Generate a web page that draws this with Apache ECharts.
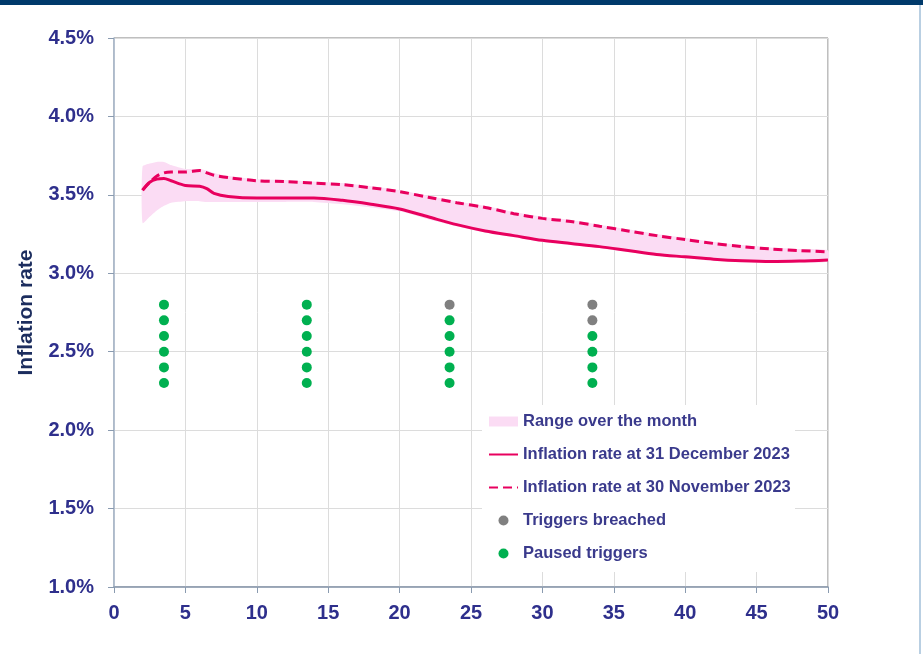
<!DOCTYPE html>
<html>
<head>
<meta charset="utf-8">
<style>
html,body{margin:0;padding:0;background:#fff;}
#chart{width:923px;height:654px;}
</style>
<script src="https://cdn.jsdelivr.net/npm/echarts@6/dist/echarts.min.js"></script>
</head>
<body>
<div id="chart"></div>
<script>
// Horizon (x) values shared by all lines
const xs = [2, 2.5, 3, 3.5, 4, 5, 6, 6.5, 7, 8, 10, 12, 14, 16, 18, 20, 22, 24, 26, 28, 30, 32, 34, 36, 38, 40, 42, 44, 46, 48, 50];
// Inflation rate at 31 December 2023 (%)
const dec2023 = [3.53, 3.58, 3.60, 3.605, 3.59, 3.56, 3.555, 3.54, 3.51, 3.49, 3.48, 3.48, 3.48, 3.465, 3.44, 3.41, 3.36, 3.31, 3.27, 3.24, 3.21, 3.19, 3.17, 3.145, 3.12, 3.105, 3.09, 3.08, 3.075, 3.078, 3.085];
// Inflation rate at 30 November 2023 (%)
const nov2023 = [3.53, 3.58, 3.62, 3.64, 3.645, 3.645, 3.655, 3.64, 3.625, 3.61, 3.59, 3.585, 3.575, 3.565, 3.545, 3.52, 3.485, 3.45, 3.42, 3.38, 3.35, 3.33, 3.30, 3.27, 3.24, 3.215, 3.19, 3.17, 3.155, 3.145, 3.136];
// Range over the month (%)
const rangeLow  = [3.32, 3.36, 3.40, 3.43, 3.45, 3.46, 3.46, 3.455, 3.455, 3.455, 3.455, 3.455, 3.455, 3.44, 3.42, 3.395, 3.345, 3.30, 3.26, 3.23, 3.20, 3.18, 3.16, 3.135, 3.11, 3.095, 3.08, 3.07, 3.065, 3.068, 3.075];
const rangeHigh = [3.68, 3.70, 3.71, 3.71, 3.69, 3.665, 3.665, 3.655, 3.64, 3.62, 3.60, 3.595, 3.585, 3.575, 3.555, 3.53, 3.495, 3.46, 3.43, 3.39, 3.36, 3.34, 3.31, 3.28, 3.25, 3.225, 3.20, 3.18, 3.165, 3.155, 3.146];
// Triggers
const breachedX = [23.5, 33.5, 33.5];
const breachedY = [2.8, 2.8, 2.7];
const pausedX = [3.5, 3.5, 3.5, 3.5, 3.5, 3.5, 13.5, 13.5, 13.5, 13.5, 13.5, 13.5, 23.5, 23.5, 23.5, 23.5, 23.5, 33.5, 33.5, 33.5, 33.5];
const pausedY = [2.8, 2.7, 2.6, 2.5, 2.4, 2.3, 2.8, 2.7, 2.6, 2.5, 2.4, 2.3, 2.7, 2.6, 2.5, 2.4, 2.3, 2.6, 2.5, 2.4, 2.3];
// Axis ticks
const xTicks = {min: 0, max: 50, step: 5};
const yTicks = {min: 1.0, max: 4.5, step: 0.5};
const names = ['Range over the month', 'Inflation rate at 31 December 2023', 'Inflation rate at 30 November 2023', 'Triggers breached', 'Paused triggers'];

const FONT = '"Liberation Sans", Arial, sans-serif';
const LABEL = '#2e2f8c';
const PINK = '#e8005e';
const BAND = '#fbdcf4';

const pair = (a, b) => a.map((v, i) => [v, b[i]]);

const chart = echarts.init(document.getElementById('chart'), null, {renderer: 'canvas'});
chart.setOption({
  animation: false,
  backgroundColor: '#fff',
  grid: {left: 114, right: 95, top: 38, bottom: 67, show: true, borderColor: '#7f7f7f', borderWidth: 1},
  xAxis: {
    type: 'value', min: xTicks.min, max: xTicks.max, interval: xTicks.step,
    axisLine: {show: true, lineStyle: {color: '#8a9bb0', width: 1.5}},
    axisTick: {show: true, length: 6, lineStyle: {color: '#8a9bb0'}},
    splitLine: {show: true, lineStyle: {color: '#dcdcdc'}},
    axisLabel: {color: LABEL, fontSize: 20, fontWeight: 'bold', fontFamily: FONT, margin: 16}
  },
  yAxis: {
    type: 'value', min: yTicks.min, max: yTicks.max, interval: yTicks.step,
    name: 'Inflation rate', nameLocation: 'middle', nameGap: 77, nameRotate: 90,
    nameTextStyle: {color: '#1c2d5e', fontSize: 21, fontWeight: 'bold', fontFamily: FONT},
    axisLine: {show: true, lineStyle: {color: '#a9b9cc', width: 1.5}},
    axisTick: {show: true, length: 6, lineStyle: {color: '#8a9bb0'}},
    splitLine: {show: true, lineStyle: {color: '#dcdcdc'}},
    axisLabel: {color: LABEL, fontSize: 20, fontWeight: 'bold', fontFamily: FONT, margin: 20,
      formatter: v => v.toFixed(1) + '%'}
  },
  legend: {
    orient: 'vertical', left: 488, top: 413, padding: 0, itemWidth: 29, itemHeight: 10, itemGap: 16,
    textStyle: {color: '#3a3a8c', fontSize: 16.5, fontWeight: 'bold', fontFamily: FONT},
    data: [
      {name: names[0], icon: 'rect', itemStyle: {color: BAND}},
      {name: names[1], itemStyle: {opacity: 0}},
      {name: names[2], itemStyle: {opacity: 0}},
      {name: names[3], icon: 'circle'},
      {name: names[4], icon: 'circle'}
    ],
    z: 5
  },
  graphic: [
    {type: 'rect', z: 3, shape: {x: 482, y: 405, width: 313, height: 167}, style: {fill: '#fff'}},
    {type: 'rect', z: 3, shape: {x: 0, y: 0, width: 923, height: 5}, style: {fill: '#003a6b'}},
    {type: 'rect', z: 3, shape: {x: 919, y: 5, width: 2, height: 649}, style: {fill: '#b9cfe2'}}
  ],
  series: [
    {
      name: names[0], type: 'custom', silent: true, z: 1,
      itemStyle: {color: BAND},
      data: [0],
      renderItem: function (params, api) {
        const upper = xs.map((x, i) => api.coord([x, rangeHigh[i]]));
        const lower = xs.map((x, i) => api.coord([x, rangeLow[i]])).reverse();
        return {
          type: 'polygon',
          shape: {points: upper.concat(lower), smooth: 0.2},
          style: {fill: BAND}
        };
      }
    },
    {
      name: names[1], type: 'line', symbol: 'none', smooth: 0.3, data: pair(xs, dec2023),
      lineStyle: {color: PINK, width: 3}, itemStyle: {color: PINK}, z: 3
    },
    {
      name: names[2], type: 'line', symbol: 'none', smooth: 0.3, data: pair(xs, nov2023),
      lineStyle: {color: PINK, width: 3, type: [9, 5]}, itemStyle: {color: PINK}, z: 3
    },
    {
      name: names[3], type: 'scatter', symbolSize: 10, data: pair(breachedX, breachedY),
      itemStyle: {color: '#808080', opacity: 1}, z: 4
    },
    {
      name: names[4], type: 'scatter', symbolSize: 10, data: pair(pausedX, pausedY),
      itemStyle: {color: '#00b050', opacity: 1}, z: 4
    }
  ]
});
</script>
</body>
</html>
